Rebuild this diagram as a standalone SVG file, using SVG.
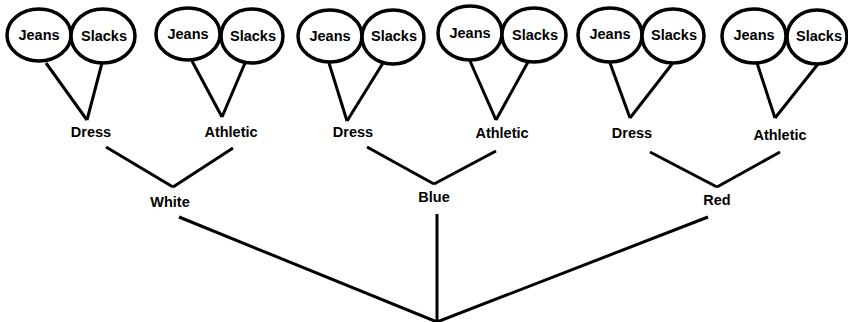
<svg xmlns="http://www.w3.org/2000/svg" width="848" height="322" viewBox="0 0 848 322">
<style>
.c{fill:#fff;stroke:#000;stroke-width:3.5}
.l{stroke:#000;stroke-width:3;fill:none;stroke-linecap:butt}
text{font-family:"Liberation Sans",Arial,sans-serif;font-weight:bold;font-size:14.5px;fill:#000;text-anchor:middle}
</style>
<rect width="848" height="322" fill="#fff"/>
<g id="connectors">
<line class="l" x1="46" y1="63" x2="87" y2="120"/>
<line class="l" x1="102" y1="63" x2="87" y2="120"/>
<line class="l" x1="192" y1="61" x2="222" y2="117"/>
<line class="l" x1="245" y1="63" x2="222" y2="117"/>
<line class="l" x1="329" y1="63" x2="347" y2="121"/>
<line class="l" x1="383" y1="63" x2="347" y2="121"/>
<line class="l" x1="470" y1="61" x2="496" y2="120"/>
<line class="l" x1="528" y1="62" x2="496" y2="120"/>
<line class="l" x1="610" y1="63" x2="630" y2="118"/>
<line class="l" x1="672" y1="64" x2="630" y2="118"/>
<line class="l" x1="757" y1="63" x2="775" y2="118"/>
<line class="l" x1="818" y1="64" x2="775" y2="118"/>
<line class="l" x1="106" y1="147" x2="173" y2="187"/>
<line class="l" x1="233" y1="148" x2="173" y2="187"/>
<line class="l" x1="367" y1="147" x2="434" y2="184"/>
<line class="l" x1="496" y1="151" x2="434" y2="184"/>
<line class="l" x1="650" y1="152" x2="717" y2="187"/>
<line class="l" x1="780" y1="152" x2="717" y2="187"/>
<line class="l" x1="179" y1="217" x2="437" y2="322"/>
<line class="l" x1="437" y1="214" x2="437" y2="322"/>
<line class="l" x1="708" y1="217" x2="437" y2="322"/>
</g>
<g id="jeans1"><ellipse class="c" cx="39" cy="35" rx="32" ry="26"/><text x="39" y="40">Jeans</text></g>
<g id="slacks1"><ellipse class="c" cx="103" cy="36" rx="32" ry="27"/><text x="104" y="41">Slacks</text></g>
<g id="jeans2"><ellipse class="c" cx="188" cy="34" rx="32" ry="26"/><text x="188" y="39">Jeans</text></g>
<g id="slacks2"><ellipse class="c" cx="252" cy="36" rx="31" ry="27"/><text x="253" y="41">Slacks</text></g>
<g id="jeans3"><ellipse class="c" cx="330" cy="36" rx="32" ry="26"/><text x="330" y="41">Jeans</text></g>
<g id="slacks3"><ellipse class="c" cx="393" cy="37" rx="31" ry="27"/><text x="394" y="41">Slacks</text></g>
<g id="jeans4"><ellipse class="c" cx="470" cy="33" rx="32" ry="27"/><text x="470" y="38">Jeans</text></g>
<g id="slacks4"><ellipse class="c" cx="534" cy="35" rx="32" ry="27"/><text x="535" y="40">Slacks</text></g>
<g id="jeans5"><ellipse class="c" cx="610" cy="35" rx="32" ry="27"/><text x="610" y="39">Jeans</text></g>
<g id="slacks5"><ellipse class="c" cx="673" cy="36" rx="31" ry="27"/><text x="674" y="40">Slacks</text></g>
<g id="jeans6"><ellipse class="c" cx="754" cy="36" rx="32" ry="27"/><text x="754" y="40">Jeans</text></g>
<g id="slacks6"><ellipse class="c" cx="817" cy="37" rx="30" ry="27"/><text x="819" y="41">Slacks</text></g>
<g id="dress1"><text x="91" y="137">Dress</text></g>
<g id="athletic1"><text x="231" y="137">Athletic</text></g>
<g id="dress2"><text x="353" y="137">Dress</text></g>
<g id="athletic2"><text x="502" y="138">Athletic</text></g>
<g id="dress3"><text x="632" y="138">Dress</text></g>
<g id="athletic3"><text x="780" y="140">Athletic</text></g>
<g id="white"><text x="170" y="207">White</text></g>
<g id="blue"><text x="434" y="202">Blue</text></g>
<g id="red"><text x="717" y="205">Red</text></g>
</svg>
